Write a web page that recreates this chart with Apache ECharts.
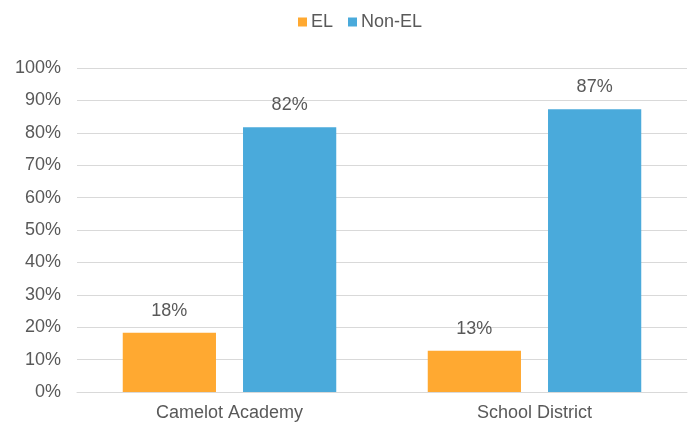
<!DOCTYPE html>
<html>
<head>
<meta charset="utf-8">
<script src="https://cdn.jsdelivr.net/npm/echarts@6/dist/echarts.min.js"></script>
<style>html,body{margin:0;padding:0;background:#fff;}#c{width:690px;height:424px;}</style>
</head>
<body>
<div id="c"></div>
<script>
var categories = ['Camelot Academy', 'School District'];
var seriesNames = ['EL', 'Non-EL'];
var elValues = [18.3, 12.7];
var nonElValues = [81.7, 87.3];
var yTicks = [0, 10, 20, 30, 40, 50, 60, 70, 80, 90, 100];

var chart = echarts.init(document.getElementById('c'), null, {renderer: 'canvas'});
var font = '"Liberation Sans", Arial, sans-serif';
var txt = '#595959';
chart.setOption({
  animation: false,
  textStyle: {fontFamily: font},
  legend: {
    top: 8, left: 293,
    itemWidth: 9, itemHeight: 9, itemGap: 15,
    icon: 'rect',
    textStyle: {color: txt, fontSize: 18, fontFamily: font, padding: [0, 0, 0, -1]},
    data: seriesNames
  },
  grid: {left: 77, right: 3, top: 68, bottom: 32, containLabel: false},
  xAxis: {
    type: 'category', data: categories,
    axisLine: {lineStyle: {color: '#d9d9d9', width: 1}},
    axisTick: {show: false},
    axisLabel: {color: txt, fontSize: 18, fontFamily: font, margin: 12}
  },
  yAxis: {
    type: 'value', min: yTicks[0], max: yTicks[yTicks.length - 1], interval: 10,
    axisLine: {show: false}, axisTick: {show: false},
    splitLine: {lineStyle: {color: '#d9d9d9', width: 1}},
    axisLabel: {color: txt, fontSize: 18, fontFamily: font, margin: 16, formatter: function (v) { return v + '%'; }}
  },
  series: [
    {
      name: seriesNames[0], type: 'bar', data: elValues,
      barGap: '29%', barCategoryGap: '30%',
      itemStyle: {color: '#FFA931'},
      label: {show: true, position: 'top', distance: 13, color: txt, fontSize: 18, fontFamily: font,
        formatter: function (p) { return Math.round(p.value) + '%'; }}
    },
    {
      name: seriesNames[1], type: 'bar', data: nonElValues,
      barGap: '29%', barCategoryGap: '30%',
      itemStyle: {color: '#4AAADB'},
      label: {show: true, position: 'top', distance: 13, color: txt, fontSize: 18, fontFamily: font,
        formatter: function (p) { return Math.round(p.value) + '%'; }}
    }
  ]
});
</script>
</body>
</html>
